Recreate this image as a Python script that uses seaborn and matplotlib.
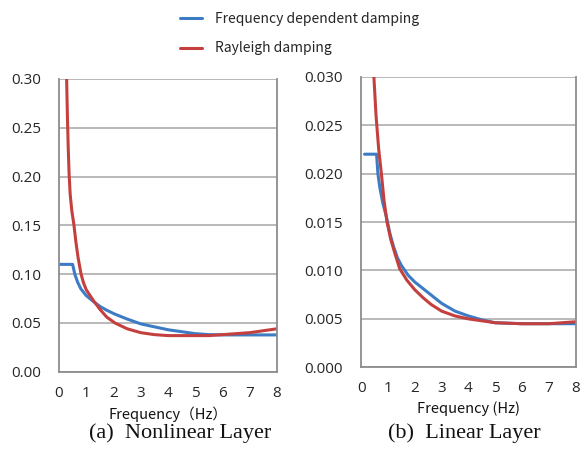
import matplotlib
matplotlib.use("Agg")
import matplotlib.pyplot as plt
import seaborn as sns
import pandas as pd
import numpy as np

# ---- data ----
series_names = ["Frequency dependent damping", "Rayleigh damping"]

# (a) Nonlinear layer
nl_fd_freq = [0.02, 0.5, 0.58, 0.68, 0.8, 1.0, 1.26, 1.5, 1.75, 2.05, 2.5, 3.0, 3.5, 4.0, 4.5, 5.0, 5.5, 6.0, 7.0, 8.0]
nl_fd_val = [0.110, 0.110, 0.100, 0.092, 0.085, 0.078, 0.072, 0.067, 0.063, 0.059, 0.054, 0.049, 0.046, 0.043, 0.041, 0.039, 0.038, 0.0377, 0.0377, 0.0377]
nl_ray_freq = [0.25, 0.28, 0.31, 0.34, 0.37, 0.41, 0.47, 0.55, 0.62, 0.7, 0.81, 0.9, 1.0, 1.26, 1.5, 1.75, 2.05, 2.5, 3.0, 3.5, 4.0, 5.0, 5.5, 6.0, 6.5, 7.0, 7.5, 8.0]
nl_ray_val = [0.34, 0.30, 0.26, 0.228, 0.203, 0.182, 0.165, 0.150, 0.133, 0.117, 0.100, 0.091, 0.084, 0.073, 0.064, 0.056, 0.050, 0.044, 0.040, 0.038, 0.037, 0.037, 0.037, 0.038, 0.039, 0.040, 0.042, 0.044]

# (b) Linear layer
l_fd_freq = [0.12, 0.57, 0.62, 0.69, 0.8, 0.94, 1.07, 1.2, 1.35, 1.5, 1.75, 2.0, 2.5, 3.0, 3.5, 4.0, 4.5, 5.0, 6.0, 7.0, 8.0]
l_fd_val = [0.022, 0.022, 0.0200, 0.0186, 0.0170, 0.0155, 0.0138, 0.0125, 0.0113, 0.0105, 0.0095, 0.0088, 0.0077, 0.0066, 0.0058, 0.0053, 0.0049, 0.0046, 0.0045, 0.0045, 0.0045]
l_ray_freq = [0.4, 0.47, 0.55, 0.65, 0.75, 0.85, 0.96, 1.1, 1.25, 1.43, 1.7, 2.0, 2.3, 2.6, 3.0, 3.5, 4.0, 4.5, 5.0, 6.0, 7.0, 7.5, 8.0]
l_ray_val = [0.036, 0.030, 0.026, 0.0225, 0.0200, 0.0172, 0.0150, 0.0132, 0.0118, 0.0102, 0.0090, 0.0080, 0.0072, 0.0065, 0.0058, 0.0053, 0.0050, 0.0048, 0.0046, 0.0045, 0.0045, 0.0046, 0.0047]

x_ticks = [0, 1, 2, 3, 4, 5, 6, 7, 8]
nl_yticks = [0.00, 0.05, 0.10, 0.15, 0.20, 0.25, 0.30]
nl_ylabels = ["0.00", "0.05", "0.10", "0.15", "0.20", "0.25", "0.30"]
l_yticks = [0.000, 0.005, 0.010, 0.015, 0.020, 0.025, 0.030]
l_ylabels = ["0.000", "0.005", "0.010", "0.015", "0.020", "0.025", "0.030"]
captions = ["(a)  Nonlinear Layer", "(b)  Linear Layer"]
xlabels = ["Frequency\uff08Hz\uff09", "Frequency (Hz)"]

def make_df(fd_f, fd_v, ry_f, ry_v):
    return pd.concat([
        pd.DataFrame({"freq": fd_f, "damping": fd_v, "series": series_names[0]}),
        pd.DataFrame({"freq": ry_f, "damping": ry_v, "series": series_names[1]}),
    ], ignore_index=True)

df_nl = make_df(nl_fd_freq, nl_fd_val, nl_ray_freq, nl_ray_val)
df_l = make_df(l_fd_freq, l_fd_val, l_ray_freq, l_ray_val)

sns.set_theme(style="white")
plt.rcParams["font.family"] = ["Open Sans", "DejaVu Sans"]

palette = {series_names[0]: "#3d7cc4", series_names[1]: "#c4403f"}
gray = "#8c8c8c"

fig = plt.figure(figsize=(5.81, 4.51), dpi=100)
W, H = 581, 451
def rect(l, t, r, b):
    return [l / W, (H - b) / H, (r - l) / W, (b - t) / H]

ax1 = fig.add_axes(rect(59, 79, 277, 371.7))
ax2 = fig.add_axes(rect(361.3, 76.7, 575.5, 367.3))

panels = [
    (ax1, df_nl, nl_yticks, nl_ylabels, 0.30),
    (ax2, df_l, l_yticks, l_ylabels, 0.030),
]
for i, (ax, df, yt, yl, ymax) in enumerate(panels):
    sns.lineplot(data=df, x="freq", y="damping", hue="series", palette=palette,
                 linewidth=2.2, ax=ax, legend=False, sort=False)
    ax.set_xlim(0, 8)
    ax.set_ylim(0, ymax)
    ax.set_xticks(x_ticks)
    ax.set_yticks(yt)
    ax.set_yticklabels(yl)
    ax.grid(axis="y", color="#a6a6a6", linewidth=1.1)
    ax.grid(axis="x", visible=False)
    ax.set_axisbelow(True)
    for name, sp in ax.spines.items():
        sp.set_visible(name in ("left", "bottom", "right"))
        sp.set_color(gray)
        sp.set_linewidth(1.3)
    ax.tick_params(axis="both", which="major", direction="out", length=3,
                   width=1.1, color=gray, labelsize=11, labelcolor="#262626")
    ax.tick_params(axis="y", pad=10)
    ax.tick_params(axis="x", pad=7)
    ax.set_ylabel("")
    ax.set_xlabel(xlabels[i], fontsize=10.5, color="#111111", labelpad=4,
                  family=["Noto Sans CJK JP", "DejaVu Sans"])

fig.text(180 / W, 1 - 433 / H, captions[0], ha="center", va="center",
         fontsize=16, family="Liberation Serif", color="#111111")
fig.text(464 / W, 1 - 433 / H, captions[1], ha="center", va="center",
         fontsize=16, family="Liberation Serif", color="#111111")

handles = ax1.get_lines()[:2]
leg = fig.legend(handles, series_names, loc="upper left",
                 bbox_to_anchor=(167 / W, 1 + 1 / H), frameon=False,
                 handlelength=1.6, handletextpad=0.95, labelspacing=1.15,
                 prop={"family": ["Noto Sans CJK JP", "DejaVu Sans"], "size": 10})

fig.savefig("out.png", dpi=100)
